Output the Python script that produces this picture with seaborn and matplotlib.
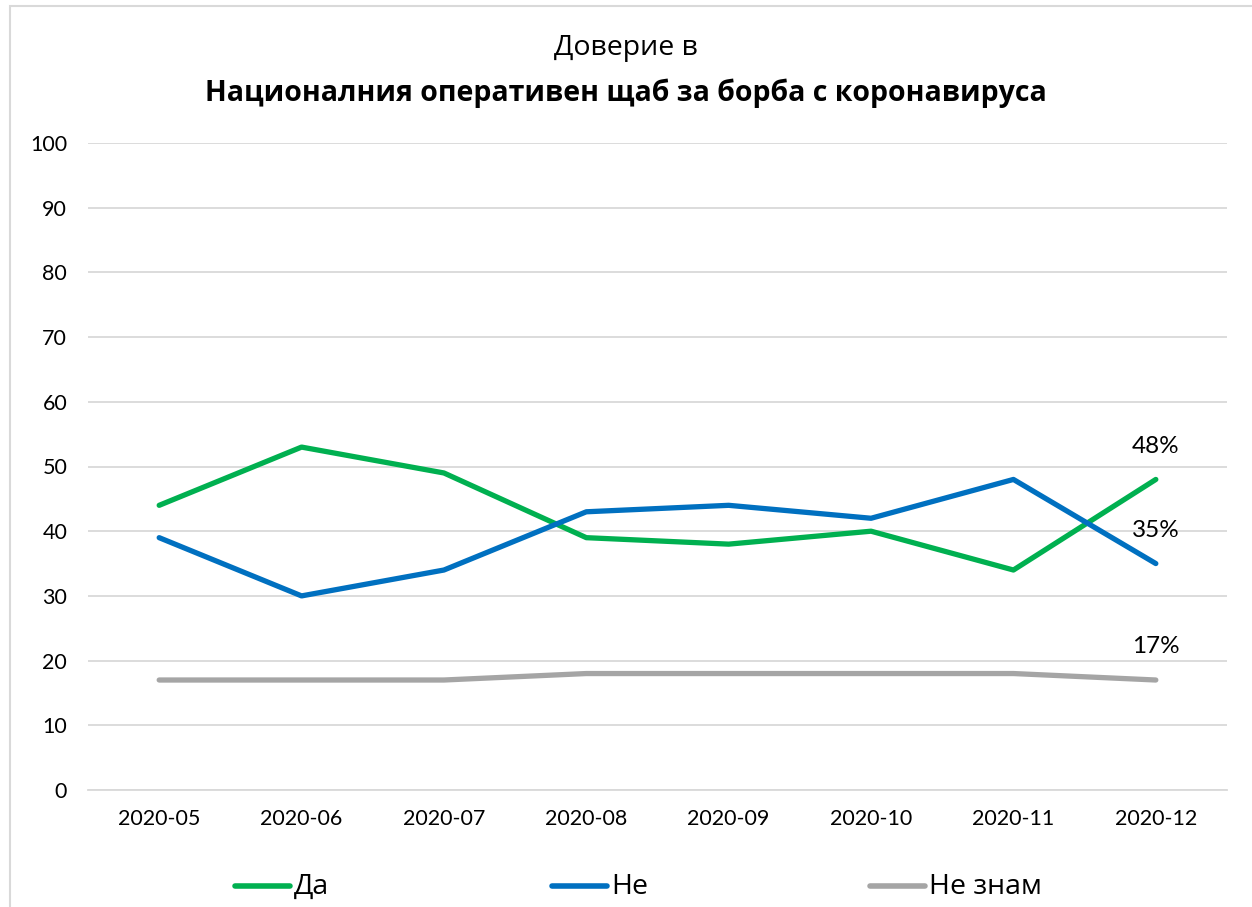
import matplotlib.pyplot as plt
import pandas as pd
import seaborn as sns
from matplotlib.patches import Rectangle

months = ['2020-05', '2020-06', '2020-07', '2020-08', '2020-09', '2020-10', '2020-11', '2020-12']
da = [44, 53, 49, 39, 38, 40, 34, 48]
ne = [39, 30, 34, 43, 44, 42, 48, 35]
ne_znam = [17, 17, 17, 18, 18, 18, 18, 17]
series_names = ['Да', 'Не', 'Не знам']
colors = ['#00B050', '#0070C0', '#A5A5A5']

sns.set_theme(style='white')
plt.rcParams['font.family'] = ['Lato', 'DejaVu Sans']
plt.rcParams['text.color'] = 'black'

data = pd.DataFrame({'month': months * 3,
                     'value': da + ne + ne_znam,
                     'series': [s for s in series_names for _ in months]})
data['pos'] = data['month'].map({m: i for i, m in enumerate(months)})

fig = plt.figure(figsize=(12.52, 9.07), dpi=100)
ax = fig.add_axes([88 / 1252, 1 - 790 / 907, (1227 - 88) / 1252, (790 - 143) / 907])

sns.lineplot(data=data, x='pos', y='value', hue='series', palette=colors,
             linewidth=3.8, ax=ax, legend=False, solid_capstyle='round')

ax.set_xlim(-0.5, len(months) - 0.5)
ax.set_ylim(0, 100)
ax.set_xticks(range(len(months)))
ax.set_xticklabels(months)
ax.set_yticks(range(0, 101, 10))
ax.yaxis.grid(True, color='#d9d9d9', linewidth=1.3)
ax.set_axisbelow(True)
for side in ['left', 'right', 'top']:
    ax.spines[side].set_visible(False)
ax.spines['bottom'].set_color('#d9d9d9')
ax.spines['bottom'].set_linewidth(1.3)
ax.tick_params(axis='both', length=0, labelsize=15.5, colors='black')
ax.tick_params(axis='x', pad=14)
ax.tick_params(axis='y', pad=15)
ax.set_xlabel('')
ax.set_ylabel('')

for vals in [da, ne, ne_znam]:
    ax.annotate(f'{vals[-1]}%', (len(months) - 1, vals[-1]), xytext=(0, 24),
                textcoords='offset points', ha='center', va='center', fontsize=17.5)

title_fam = ['Open Sans', 'DejaVu Sans']
fig.text(0.5, 1 - 48 / 907, 'Доверие в', ha='center', va='center', fontsize=20.5,
         family=title_fam)
fig.text(0.5, 1 - 93 / 907, 'Националния оперативен щаб за борба с коронавируса',
         ha='center', va='center', fontsize=20.5, fontweight='bold', family=title_fam)

# legend along the bottom
leg_x = [235, 552, 870]
for name, col, x in zip(series_names, colors, leg_x):
    fig.add_artist(plt.Line2D([x / 1252, (x + 55) / 1252], [1 - 886 / 907] * 2,
                              color=col, linewidth=4, solid_capstyle='round'))
    fig.text((x + 59) / 1252, 1 - 887 / 907, name, ha='left', va='center',
             fontsize=20.5, family=title_fam)

fig.add_artist(Rectangle((10 / 1252, -0.1), 1.2, 1 - 6 / 907 + 0.1,
                         transform=fig.transFigure, fill=False,
                         edgecolor='#d9d9d9', linewidth=1.5))

fig.savefig('out.png', dpi=100)
